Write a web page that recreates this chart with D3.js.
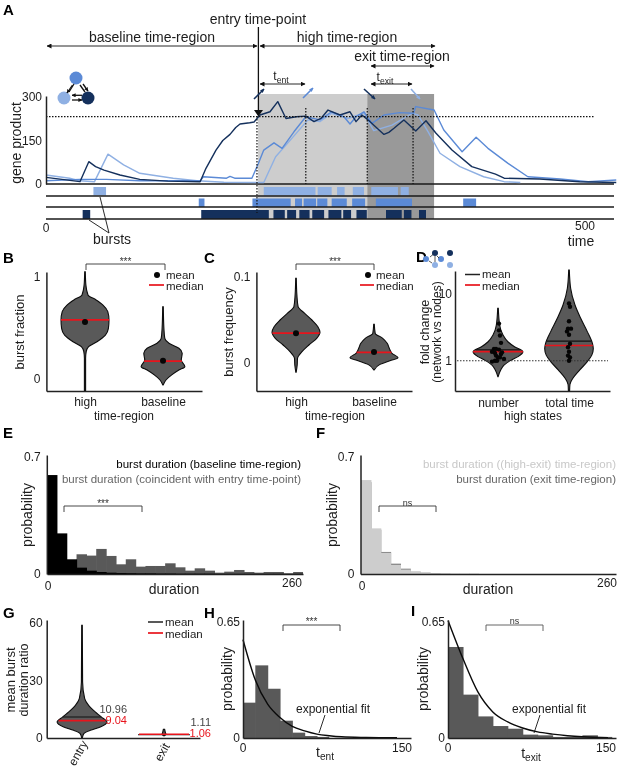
<!DOCTYPE html>
<html><head><meta charset="utf-8">
<script src="https://cdn.jsdelivr.net/npm/d3@7"></script>
<style>html,body{margin:0;padding:0;background:#fff}svg{display:block;filter:blur(.4px)}text{font-family:"Liberation Sans",Arial,sans-serif}</style>
</head><body>
<script>
// ---------- Panel A data ----------
const darkT=[0,31.5,39.7,46,53.8,68.6,87,113,143,148.4,157.7,164,170.7,176,180,189,193,198.5,207.8,215,222.6,232,241,248.6,255,261.6,272.7,282,287.6,293,300.6,313.5,318,322.8,332,343,352.5,361.8,376.6,395,417,425,458,495,529];
const darkV=[23,8,77,60,48,31,16,10,8,54,117,150,171,195,207,211,214,238,249,284,226,232,234,215,226,255,238,249,215,238,215,171,178,192,221,183,218,175,117,60,34,20,17,8,5];
const midT=[0,31.5,56,87,143,146,167.5,170.7,175,191,197,202,211.5,219,230,241,254,265,276.4,282,287.6,295,302.4,313.5,328,341,343,360,369,386,399,410,428.6,447,477,503,529];
const midV=[11,16,16,11,11,25,20,26,20,20,71,117,142,123,180,232,221,249,232,207,232,249,209,238,246,244,267,255,186,111,161,123,71,25,17,8,14];
const lightT=[0,22,31.5,45,57.5,72,87,118,140,165,202,213,224,243,254,265,280,295,304,321,339.7,345,354.5,365.5,384,406,425,440];
const lightV=[31,20,11,8,103,66,37,20,11,6,5,94,140,221,215,244,226,244,184,203,244,238,180,106,60,25,8,5];
const lightBursts=[[44,55.7],[202,250],[252,265],[270,277],[284.6,295],[301.7,326.5],[329,336.5]];
const midBursts=[[141.7,147],[191.5,227],[231,237.5],[239,250.5],[251.6,261],[265,279],[284,296],[306,339.5],[387,399]];
const darkBursts=[[34,41],[144,206.7],[211,221.5],[223.7,232],[235,244.5],[247,258],[262,274],[275.7,283],[288,297.6],[315.4,330],[332,339],[346,352.5]];
const dottedTimes=[195.7,241,298,340.5];
const regionStarts=[196.7,298];
const regionEnds=[298,360];
const highLevel=232;
// ---------- Panel B/C/D/G violins ----------
const bHighV=[1.05,.92,.824,.775,.725,.66,.579,.497,.431,.366,.317,.268,.203,-.118];
const bHighD=[.01,.03,.1,.37,.6,.76,.8,.78,.68,.4,.12,.04,.02,.02];
const bBaseV=[.709,.497,.399,.35,.301,.252,.186,.121,.088,.04,-.01,-.059];
const bBaseD=[.01,.03,.06,.2,.53,.64,.61,.73,.53,.29,.1,.005];
const bMean=[.56,.18], bMedian=[.58,.175];
const cHighV=[.0985,.079,.0655,.0577,.05,.0422,.0357,.0287,.0209,.0132,.0054,-.0023,-.0108];
const cHighD=[.01,.03,.07,.29,.53,.73,.8,.69,.43,.2,.05,.04,.005];
const cBaseV=[.045,.0345,.0287,.0229,.0171,.0112,.0062,.0027,-.0016,-.0082];
const cBaseD=[.01,.04,.29,.44,.51,.6,.8,.53,.2,.005];
const cMean=[.0345,.0128], cMedian=[.0348,.0124];
const dNumV=[5.98,3.39,2.4,1.91,1.61,1.36,1.15,1.02,.86,.73,.58];
const dNumD=[.01,.055,.167,.33,.55,.83,.67,.44,.2,.09,.005];
const dTimeV=[22.2,11.9,6.7,4.25,2.7,1.81,1.52,1.21,.97,.73,.55,.44,.355];
const dTimeD=[.01,.055,.2,.39,.61,.78,.81,.76,.61,.36,.13,.03,.02];
const dMean=[1.445,1.95], dMedian=[1.36,1.68];
const dNumDots=[3.55,2.82,2.37,1.84,1.5,1.5,1.46,1.36,1.3,1.26,1.33,1.19,1.12,1.12,1.06,1,1,.97];
const dNumJit=[1,1,2,3,-4,-2,1,-6,-3,3,4,-2,0,2,6,-3,-1,-6];
const dTimeDots=[7.08,6.31,3.85,2.99,2.99,2.72,2.43,1.78,1.58,1.36,1.19,1.12,1];
const dTimeJit=[0,1,0,-1,2,-2,0,1,-1,0,-1,1,0];
const gEntryV=[58.8,29.2,20.5,17,13.6,11,8.3,5.7,4,2.3,0];
const gEntryD=[.01,.02,.09,.22,.44,.64,.83,.61,.28,.06,.01];
const gExitV=[4.6,3.2,2.6,2.3,1.9,1.2];
const gExitD=[.02,.04,.05,.06,.06,.02];
const gMean=[10.96,1.11], gMedian=[9.04,1.06];
const gExitMark=2;
// ---------- Histograms ----------
const eBlack=[.592,.243,.088,.038,.02,.012,.008,.006,.005,.004,.004,.003,.003,.002,.002,.002,.002,.001,.001,.001,.001,.001,.001,.001,.001,.001];
const eGray=[0,0,0,.118,.11,.15,.108,.058,.088,.044,.048,.048,.064,.04,.02,.034,.02,.008,.014,.024,.012,.008,.012,.012,.004,.012];
const fGray=[.55,.265,.132,.062,.032,.014,.008,.004,.002,.001,.001,.001];
const fLight=[.562,.273,.126,.054,.026,.014,.008,.004,.002,.001];
const hBars=[.198,.407,.276,.097,.03,.011,.006];
const hFitT=[0,12,24,36,48,60,72,84,96,120,150];
const hFitV=[.551,.325,.19,.115,.065,.04,.022,.013,.007,.003,.001];
const iBars=[.51,.243,.121,.067,.052,.019,.015,.006,.006,.015,.006];
const iFitT=[0,14,28,42,56,70,84,98,112,126,150];
const iFitV=[.659,.445,.258,.146,.09,.056,.034,.022,.013,.007,.002];

const DARK='#14305c', MID='#5b8ad6', LIGHT='#8fb0e3', GREY='#595959', RED='#e8141c', INK='#1c1c1c';
const svg=d3.select('body').append('svg').attr('width',625).attr('height',767).attr('viewBox','0 0 625 767');
const defs=svg.append('defs');
function marker(id,len,wid){
  const m=defs.append('marker').attr('id',id).attr('viewBox','0 0 10 10').attr('refX',9).attr('refY',5)
   .attr('markerUnits','userSpaceOnUse').attr('markerWidth',len).attr('markerHeight',wid).attr('orient','auto-start-reverse');
  m.append('path').attr('d','M0,0L10,5L0,10Z').attr('fill','context-stroke');
}
marker('ah',5,5);marker('ahs',4,4);
function T(x,y,s,o={}){
  const t=svg.append('text').attr('x',x).attr('y',y).attr('dy','.35em').attr('font-size',o.size||12)
    .attr('text-anchor',o.anchor||'middle').attr('fill',o.fill||INK).text(s);
  if(o.weight)t.attr('font-weight',o.weight);
  if(o.rotate!==undefined)t.attr('transform',`rotate(${o.rotate} ${x} ${y})`);
  return t;
}
function L(x1,y1,x2,y2,o={}){
  const l=svg.append('line').attr('x1',x1).attr('y1',y1).attr('x2',x2).attr('y2',y2)
    .attr('stroke',o.stroke||'#111').attr('stroke-width',o.w||1);
  if(o.dash)l.attr('stroke-dasharray',o.dash);
  if(o.both){l.attr('marker-start','url(#ah)').attr('marker-end','url(#ah)');}
  if(o.end)l.attr('marker-end','url(#ahs)');
  return l;
}
function TS(x,y,a,b,size){
  const t=T(x,y,a,{size});
  t.append('tspan').attr('dy','.35em').attr('font-size',size*.72).text(b);
  return t;
}
function ext(scale,a,b){return scale.copy().domain([scale.invert(a),scale.invert(b)]).range([a,b]);}
function yAxis(scale,x,vals,fmt,o={}){
  const g=svg.append('g').attr('transform',`translate(${x},0)`)
   .call(d3.axisLeft(scale).tickValues(vals).tickFormat(fmt).tickSize(0).tickPadding(o.pad||5));
  g.select('.domain').attr('stroke','#222').attr('stroke-width',1.5);
  g.selectAll('text').attr('font-size',o.size||12).attr('fill',INK).attr('font-family','"Liberation Sans"');
  return g;
}
function xAxis(scale,y,vals,fmt,o={}){
  const g=svg.append('g').attr('transform',`translate(0,${y})`)
   .call(d3.axisBottom(scale).tickValues(vals).tickFormat(fmt).tickSize(0).tickPadding(o.pad||6));
  g.select('.domain').attr('stroke',o.stroke||'#222').attr('stroke-width',1.5);
  g.selectAll('text').attr('font-size',o.size||12).attr('fill',INK).attr('font-family','"Liberation Sans"');
  return g;
}
const wScale=d3.scaleLinear([0,1],[0,30]);
function violin(cx,y,vs,ds){
  const pts=vs.map((v,i)=>[v,ds[i]]);
  const area=d3.area().curve(d3.curveMonotoneY).y(p=>y(p[0])).x0(p=>cx-wScale(p[1])).x1(p=>cx+wScale(p[1]));
  svg.append('path').attr('d',area(pts)).attr('fill',GREY).attr('stroke','#0c0c0c').attr('stroke-width',1.1);
}
function vLine(cx,y,vs,ds,val,color,w){
  const hw=wScale(d3.scaleLinear(vs,ds)(val));
  L(cx-hw,y(val),cx+hw,y(val),{stroke:color,w:w||1.7});
}
function bracket(x1,x2,top,bottom,label,size,lab_y,stroke){
  svg.append('path').attr('d',`M${x1},${bottom}V${top}H${x2}V${bottom}`).attr('fill','none').attr('stroke',stroke||'#333').attr('stroke-width',.9);
  T((x1+x2)/2,lab_y,label,{size:size||10,fill:'#333'});
}
function legendDot(x,y,tx,ty2,mx){
  svg.append('circle').attr('cx',x).attr('cy',y).attr('r',3).attr('fill','#050505');
  T(tx,y-.5,'mean',{anchor:'start',size:11.5});
  L(mx,ty2,tx-2,ty2,{stroke:RED,w:1.7});
  T(tx,ty2+.5,'median',{anchor:'start',size:11.5});
}
function legendLine(mx,y,tx,y2){
  L(mx,y,tx-2,y,{stroke:'#222',w:1.5});T(tx,y-.5,'mean',{anchor:'start',size:11.5});
  L(mx,y2,tx-2,y2,{stroke:RED,w:1.7});T(tx,y2+.5,'median',{anchor:'start',size:11.5});
}
[['A',3,10],['B',3,258],['C',204,258],['D',416,257],['E',3,433],['F',316,433],['G',3,613],['H',204,613],['I',411,611]]
 .forEach(d=>T(d[1],d[2],d[0],{size:15,weight:'bold',anchor:'start',fill:'#000'}));

// ---------- Panel A ----------
const xA=d3.scaleLinear([0,500],[46,585]);
const yA=d3.scaleLinear([0,300],[184,97]);
regionStarts.forEach((s,i)=>svg.append('rect').attr('x',xA(s)).attr('y',94).attr('width',xA(regionEnds[i])-xA(s)).attr('height',125).attr('fill',i?'#999':'#cdcdcd'));
[[lightBursts,LIGHT,187,8.5],[midBursts,MID,198.5,8.5],[darkBursts,DARK,210,9]].forEach(([b,c,y,h])=>{
  svg.append('g').selectAll('rect').data(b).join('rect').attr('x',d=>xA(d[0])).attr('width',d=>xA(d[1])-xA(d[0])).attr('y',y).attr('height',h).attr('fill',c);
});
[184,196,207,219].forEach(y=>L(46,y,614,y,{stroke:'#1a1a1a',w:1.4}));
const ln=d3.line().curve(d3.curveLinear).x(p=>xA(p[0])).y(p=>yA(p[1]));
[[lightT,lightV,LIGHT],[midT,midV,MID],[darkT,darkV,DARK]].forEach(([t,v,c])=>{
  svg.append('path').attr('d',ln(t.map((d,i)=>[d,v[i]]))).attr('fill','none').attr('stroke',c).attr('stroke-width',1.4).attr('stroke-linejoin','round');
});
L(46,yA(highLevel),594,yA(highLevel),{dash:'1.5 1.5',w:1.2,stroke:'#111'});
dottedTimes.forEach((t,i)=>L(xA(t),i==0?116:108,xA(t),i==0?213:184,{dash:'1.5 1.5',w:1.2,stroke:'#111'}));
yAxis(ext(yA,184,96),46,[0,150,300],d3.format('d'),{size:12,pad:4});
L(258.4,27,258.4,115,{w:1.3});
svg.append('path').attr('d','M254,110L258.4,116.5L263,110Z').attr('fill','#111');
L(47,46,257,46,{w:.9,both:true});
L(260,46,435,46,{w:.9,both:true});
L(371,66,434,66,{w:.9,both:true});
L(260,84,305,84,{w:.9,both:true});
L(371,84,412,84,{w:.9,both:true});
T(258,19,'entry time-point',{size:14});
T(152,37,'baseline time-region',{size:14});
T(347,37,'high time-region',{size:14});
T(402,56,'exit time-region',{size:14});
TS(281,76,'t','ent',12);
TS(385,77,'t','exit',12);
L(254,99,264,89,{stroke:DARK,w:1.6,end:true});
L(303,98,313,88,{stroke:MID,w:1.6,end:true});
L(364,89,375,99,{stroke:DARK,w:1.6,end:true});
L(411,89,420,99,{stroke:LIGHT,w:1.6,end:true});
T(16,143,'gene product',{size:14,rotate:-90});
T(46,228,'0',{size:12});
T(585,226,'500',{size:12});
T(581,241,'time',{size:14});
T(112,239,'bursts',{size:14});
L(100,197,109,233,{w:.9});L(89,220,109,233,{w:.9});
// network icon
[[76,78,MID],[64,98,LIGHT],[88,98,DARK]].forEach(d=>svg.append('circle').attr('cx',d[0]).attr('cy',d[1]).attr('r',6.5).attr('fill',d[2]));
L(72.5,85,67,93,{w:1.3,end:true});L(69,92,74,84,{w:1.3});
L(80,85,85,92,{w:1.3});L(83,84,88,91,{w:1.3,end:true});
L(82,95.3,72,95.3,{w:1.3,end:true});L(72,100,82,100,{w:1.3,end:true});

// ---------- Panel B ----------
const yB=d3.scaleLinear([0,1],[379,277]);
const xB=d3.scaleLinear([0,1],[85,163]);
violin(xB(0),yB,bHighV,bHighD);violin(xB(1),yB,bBaseV,bBaseD);
[[0,bHighV,bHighD],[1,bBaseV,bBaseD]].forEach(([i,v,d])=>{
  vLine(xB(i),yB,v,d,bMedian[i],RED);
  svg.append('circle').attr('cx',xB(i)).attr('cy',yB(bMean[i])).attr('r',3).attr('fill','#050505');
});
yAxis(ext(yB,391,272),46.4,[0,1],d3.format('d'),{pad:6});
xAxis(ext(xB,46.4,202),391,[0,1],i=>['high','baseline'][i],{pad:6});
T(124,416,'time-region');
T(19,332,'burst fraction',{size:13,rotate:-90});
bracket(86,165,264,270,'***',10,261);
legendDot(157,275,166,285,149);

// ---------- Panel C ----------
const yC=d3.scaleLinear([0,.1],[363,277]);
const xC=d3.scaleLinear([0,1],[296,374]);
violin(xC(0),yC,cHighV,cHighD);violin(xC(1),yC,cBaseV,cBaseD);
[[0,cHighV,cHighD],[1,cBaseV,cBaseD]].forEach(([i,v,d])=>{
  vLine(xC(i),yC,v,d,cMedian[i],RED);
  svg.append('circle').attr('cx',xC(i)).attr('cy',yC(cMean[i])).attr('r',3).attr('fill','#050505');
});
yAxis(ext(yC,391,272),256.4,[0,.1],d=>d?'0.1':'0',{pad:6});
xAxis(ext(xC,256.4,412),391,[0,1],i=>['high','baseline'][i],{pad:6});
T(335,416,'time-region');
T(228,332,'burst frequency',{size:13,rotate:-90});
bracket(296,374,264,270,'***',10,261);
legendDot(368,275,376,285,360);

// ---------- Panel D ----------
const yD=d3.scaleLog([1,10],[360.7,293.3]);
const xD=d3.scaleLinear([0,1],[498,569]);
violin(xD(0),yD,dNumV,dNumD);violin(xD(1),yD,dTimeV,dTimeD);
[[0,dNumV,dNumD],[1,dTimeV,dTimeD]].forEach(([i,v,d])=>{
  vLine(xD(i),yD,v,d,dMean[i],'#111',1.3);
  vLine(xD(i),yD,v,d,dMedian[i],RED);
});
L(457,yD(1),608,yD(1),{dash:'1.5 1.5',w:1.1,stroke:'#333'});
[[0,dNumDots,dNumJit],[1,dTimeDots,dTimeJit]].forEach(([i,v,j])=>{
  svg.append('g').selectAll('circle').data(v).join('circle').attr('cx',(d,k)=>xD(i)+j[k]).attr('cy',d=>yD(d)).attr('r',2.2).attr('fill','#050505');
});
yAxis(ext(yD,391,271),455,[1,10],d3.format('d'),{pad:3});
xAxis(ext(xD,455,610),391,[0,1],i=>['number','total time'][i],{pad:7});
T(533,416,'high states');
T(425,332,'fold change',{size:12.5,rotate:-90});
T(437,332,'(network vs nodes)',{size:12,rotate:-90});
legendLine(465,274.5,482,285);
[[435,253,DARK],[450,253,DARK],[426,259,MID],[441,259,MID],[435,265,LIGHT],[450,265,LIGHT]].forEach(d=>svg.append('circle').attr('cx',d[0]).attr('cy',d[1]).attr('r',3).attr('fill',d[2]));
L(430,257,433,254.5,{w:.7});L(432,263,429,261,{w:.7});L(435,256,435,262,{w:.7});L(437,256,439,258,{w:.7});

// ---------- Panel E / F ----------
function hist(x,y,data,binW,fill){
  svg.append('g').selectAll('rect').data(data).join('rect')
   .attr('x',(d,i)=>x(i*binW)).attr('width',(d,i)=>x((i+1)*binW)-x(i*binW)+(i<data.length-1?.6:0))
   .attr('y',d=>y(d)).attr('height',d=>Math.max(0,y(0)-y(d))).attr('fill',fill);
}
const yE=d3.scaleLinear([0,.7],[574,457]);
const xE=d3.scaleLinear([0,260],[47,303]);
hist(xE,yE,eGray,10,GREY);
hist(xE,yE,eBlack,10,'#000');
yAxis(ext(yE,574,455),46.8,[0,.7],d=>d?'0.7':'0',{pad:6});
xAxis(xE,574,[],d=>d,{stroke:'#222'});
T(48,586,'0');T(292,583,'260');
T(174,589,'duration',{size:14});
T(27,515,'probability',{size:14,rotate:-90});
T(301,464,'burst duration (baseline time-region)',{anchor:'end',size:11.5,fill:'#000'});
T(301,479,'burst duration (coincident with entry time-point)',{anchor:'end',size:11.5,fill:'#666'});
bracket(64,142,506,512,'***',10,503);

const yF=d3.scaleLinear([0,.7],[574,457]);
const xF=d3.scaleLinear([0,260],[361,617]);
hist(xF,yF,fGray,10,'#8a8a8a');
hist(xF,yF,fLight,10,'#cdcdcd');
yAxis(ext(yF,574,455),360.5,[0,.7],d=>d?'0.7':'0',{pad:6});
xAxis(ext(xF,360.5,616),574,[],d=>d,{stroke:'#222'});
T(362,586,'0');T(607,583,'260');
T(488,589,'duration',{size:14});
T(332,515,'probability',{size:14,rotate:-90});
T(616,464,'burst duration ((high-exit) time-region)',{anchor:'end',size:11.5,fill:'#c8c8c8'});
T(616,479,'burst duration (exit time-region)',{anchor:'end',size:11.5,fill:'#666'});
bracket(379,436,506,512,'ns',9,503);

// ---------- Panel G ----------
const yG=d3.scaleLinear([0,60],[738,623]);
const xG=d3.scaleLinear([0,1],[82,164]);
violin(xG(0),yG,gEntryV,gEntryD);
violin(xG(1),yG,gExitV,gExitD);
vLine(xG(0),yG,gEntryV,gEntryD,gMean[0],'#111',1.2);
vLine(xG(0),yG,gEntryV,gEntryD,gMedian[0],RED);
L(xG(1)-26,yG(gExitMark)+.6,xG(1)+26,yG(gExitMark)+.6,{stroke:'#111',w:1.1});
L(xG(1)-25,yG(gExitMark),xG(1)+25,yG(gExitMark),{stroke:RED,w:1.5});
yAxis(ext(yG,738,620),46.7,[0,30,60],d3.format('d'),{pad:4});
xAxis(ext(xG,46.7,200),738,[],d=>d);
T(78,753,'entry',{rotate:-60});T(162,752,'exit',{rotate:-60});
T(10,680,'mean burst',{size:13,rotate:-90});
T(24,680,'duration ratio',{size:12.5,rotate:-90});
T(127,709,'10.96',{anchor:'end',fill:'#444',size:11});
T(127,720,'9.04',{anchor:'end',fill:RED,size:11});
T(211,722,'1.11',{anchor:'end',fill:'#444',size:11});
T(211,733,'1.06',{anchor:'end',fill:RED,size:11});
legendLine(148,622,165,633);

// ---------- Panel H / I ----------
const fit=(x,y)=>d3.line().curve(d3.curveMonotoneX).x(p=>x(p[0])).y(p=>y(p[1]));
const yH=d3.scaleLinear([0,.65],[738,622]);
const xH=d3.scaleLinear([0,150],[243,397]);
hist(xH,yH,hBars,12,GREY);
svg.append('path').attr('d',fit(xH,yH)(hFitT.map((t,i)=>[t,hFitV[i]]))).attr('fill','none').attr('stroke','#0a0a0a').attr('stroke-width',1.4);
yAxis(ext(yH,738,620),243,[0,.65],d=>d?'0.65':'0',{pad:3});
xAxis(ext(xH,243,411),738,[],d=>d);
T(243,748,'0');T(402,748,'150');
TS(325,752,'t','ent',14);
T(227,679,'probability',{size:14,rotate:-90});
bracket(283,340,625,631,'***',10,621);
T(333,709,'exponential fit');
L(325,715,319,733,{w:.9});

const yI=d3.scaleLinear([0,.65],[738,622]);
const xI=d3.scaleLinear([0,150],[448,608]);
hist(xI,yI,iBars,14,GREY);
svg.append('path').attr('d',fit(xI,yI)(iFitT.map((t,i)=>[t,iFitV[i]]))).attr('fill','none').attr('stroke','#0a0a0a').attr('stroke-width',1.4);
yAxis(ext(yI,738,620),448,[0,.65],d=>d?'0.65':'0',{pad:3});
xAxis(ext(xI,448,616),738,[],d=>d);
T(448,748,'0');T(606,748,'150');
TS(531,753,'t','exit',14);
T(423,679,'probability',{size:14,rotate:-90});
bracket(486,543,625,631,'ns',9,621,'#555');
T(549,709,'exponential fit');
L(540,715,534,733,{w:.9});
</script>
</body></html>
